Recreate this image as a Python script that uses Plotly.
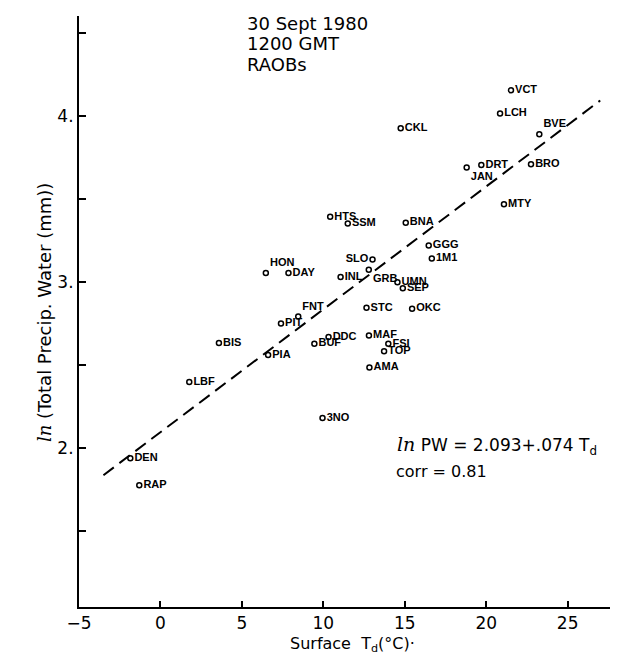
import plotly.graph_objects as go

# ---- data ----
stations = ["VCT", "LCH", "CKL", "BVE", "JAN", "DRT", "BRO", "MTY", "BNA",
            "HTS", "SSM", "SLO", "HON", "DAY", "INL", "GRB", "UMN", "SEP",
            "GGG", "1M1", "FNT", "PIT", "STC", "OKC", "BIS", "DDC", "BUF",
            "MAF", "FSI", "TOP", "AMA", "PIA", "LBF", "3NO", "DEN", "RAP"]
td = [21.52, 20.85, 14.75, 23.26, 18.80, 19.70, 22.75, 21.09, 15.06,
      10.42, 11.50, 13.02, 6.47, 7.86, 11.06, 12.79, 14.55, 14.88,
      16.47, 16.66, 8.46, 7.40, 12.65, 15.45, 3.59, 10.32, 9.45,
      12.80, 13.99, 13.73, 12.83, 6.61, 1.77, 9.95, -1.85, -1.30]
ln_pw = [4.152, 4.012, 3.924, 3.887, 3.687, 3.703, 3.707, 3.466, 3.355,
         3.390, 3.350, 3.133, 3.052, 3.052, 3.028, 3.072, 2.996, 2.960,
         3.217, 3.139, 2.790, 2.748, 2.842, 2.837, 2.630, 2.667, 2.626,
         2.676, 2.625, 2.580, 2.482, 2.558, 2.396, 2.179, 1.936, 1.773]
label_pos = ["middle right"] * len(stations)
special_pos = {"BVE": "top right", "JAN": "bottom right", "SLO": "middle left",
               "HON": "top right", "GRB": "bottom right", "FNT": "top right"}
for i, s in enumerate(stations):
    if s in special_pos:
        label_pos[i] = special_pos[s]

# regression: ln PW = 2.093 + .074 Td
fit_a, fit_b = 2.093, 0.074
fit_x = [-3.5, 27.0]
fit_y = [fit_a + fit_b * v for v in fit_x]

x_ticks = [-5, 0, 5, 10, 15, 20, 25]
y_ticks = [1.5, 2.0, 2.5, 3.0, 3.5, 4.0, 4.5]
y_ticktext = ["", "2.", "", "3.", "", "4.", ""]

FONT = "DejaVu Sans"
L, R, T, B = 71, 26, 8, 67
PW, PH = 628 - L - R, 666 - T - B

fig = go.Figure()
fig.add_trace(go.Scatter(
    x=fit_x, y=fit_y, mode="lines",
    line=dict(color="black", width=2, dash="13px,7px"),
    hoverinfo="skip", showlegend=False))
fig.add_trace(go.Scatter(
    x=td, y=ln_pw, mode="markers+text", text=stations,
    textposition=label_pos,
    textfont=dict(family="Liberation Sans", size=11, color="black", weight="bold"),
    marker=dict(symbol="circle-open", size=5, color="black", line=dict(width=1.5)),
    showlegend=False))

fig.update_layout(
    width=628, height=666,
    margin=dict(l=L, r=R, t=T, b=B, autoexpand=False),
    paper_bgcolor="white", plot_bgcolor="white",
    font=dict(family=FONT, color="black"),
    xaxis=dict(range=[-5, 27.6], tickvals=x_ticks, ticks="inside", ticklen=6,
               tickwidth=1.5, tickcolor="black", showline=True, linecolor="black",
               linewidth=2, showgrid=False, zeroline=False, automargin=False,
               tickfont=dict(family=FONT, size=17)),
    yaxis=dict(range=[1.04, 4.6], tickvals=y_ticks, ticktext=y_ticktext,
               ticks="inside", ticklen=7, tickwidth=1.5, tickcolor="black",
               showline=True, linecolor="black", linewidth=2, showgrid=False,
               zeroline=False, automargin=False,
               tickfont=dict(family=FONT, size=17)),
)


def px(x):
    return (x - L) / PW


def py(y):
    return 1 - (y - T) / PH


for text, yy in [("30 Sept 1980", 15), ("1200 GMT", 35), ("RAOBs", 56)]:
    fig.add_annotation(text=text, xref="paper", yref="paper",
                       x=px(237), y=py(yy), xanchor="left", yanchor="middle",
                       showarrow=False, font=dict(family=FONT, size=18))

fig.add_annotation(
    text="<span style='font-family:DejaVu Serif;font-size:19px'><i>ln</i></span> PW = 2.093+.074 T<sub>d</sub>",
    xref="paper", yref="paper", x=px(387), y=py(437),
    xanchor="left", yanchor="middle", showarrow=False,
    font=dict(family=FONT, size=17))
fig.add_annotation(
    text="corr = 0.81", xref="paper", yref="paper", x=px(386), y=py(463),
    xanchor="left", yanchor="middle", showarrow=False,
    font=dict(family=FONT, size=16))

fig.add_annotation(
    text="Surface  T<sub>d</sub>(°C)·", xref="paper", yref="paper",
    x=px(345), y=py(636), xanchor="center", yanchor="middle", showarrow=False,
    font=dict(family=FONT, size=16))
fig.add_annotation(
    text="<span style='font-family:DejaVu Serif'><i>ln</i></span> (Total Precip. Water (mm))",
    xref="paper", yref="paper", x=px(36), y=py(305),
    xanchor="center", yanchor="middle", textangle=-90, showarrow=False,
    font=dict(family=FONT, size=18))

fig.write_html("out.html")
